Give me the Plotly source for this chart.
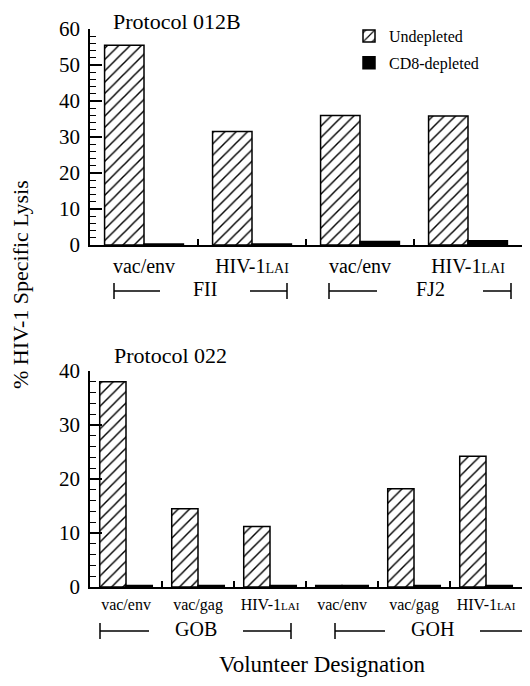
import plotly.graph_objects as go

# ---- data ----
top_categories = ["FII vac/env", "FII HIV-1LAI", "FJ2 vac/env", "FJ2 HIV-1LAI"]
top_ticklabels = ["vac/env", "HIV-1<span style='font-size:14px'>LAI</span>",
                  "vac/env", "HIV-1<span style='font-size:14px'>LAI</span>"]
top_undepleted = [55.5, 31.5, 36.0, 35.8]
top_depleted = [0.3, 0.3, 1.0, 1.2]

bot_categories = ["GOB vac/env", "GOB vac/gag", "GOB HIV-1LAI",
                  "GOH vac/env", "GOH vac/gag", "GOH HIV-1LAI"]
bot_ticklabels = ["vac/env", "vac/gag", "HIV-1<span style='font-size:11px'>LAI</span>",
                  "vac/env", "vac/gag", "HIV-1<span style='font-size:11px'>LAI</span>"]
bot_undepleted = [38.0, 14.5, 11.2, 0.3, 18.2, 24.2]
bot_depleted = [0.3, 0.3, 0.3, 0.3, 0.3, 0.3]

top_groups = ["FII", "FJ2"]
bot_groups = ["GOB", "GOH"]

FONT = "Liberation Serif"
OFF = 8                     # page body margin of the html page
W, H = 530 - OFF, 686 - OFF


def px(x):
    return (x - OFF) / W


def py(y):
    return 1 - (y - OFF) / H


hatch = dict(shape="/", fgcolor="black", bgcolor="white", size=8, solidity=0.18)
outline = dict(color="black", width=1.5)

fig = go.Figure()
fig.add_trace(go.Bar(x=top_categories, y=top_undepleted, name="Undepleted",
                     marker=dict(color="white", pattern=hatch, line=outline),
                     xaxis="x", yaxis="y", legendgroup="a"))
fig.add_trace(go.Bar(x=top_categories, y=top_depleted, name="CD8-depleted",
                     marker=dict(color="black", line=outline),
                     xaxis="x", yaxis="y", legendgroup="b"))
fig.add_trace(go.Bar(x=bot_categories, y=bot_undepleted, name="Undepleted",
                     marker=dict(color="white", pattern=hatch, line=outline),
                     xaxis="x2", yaxis="y2", showlegend=False))
fig.add_trace(go.Bar(x=bot_categories, y=bot_depleted, name="CD8-depleted",
                     marker=dict(color="black", line=outline),
                     xaxis="x2", yaxis="y2", showlegend=False))

xdom = [px(90), px(522)]
top_dom = [py(245), py(29)]
bot_dom = [py(587), py(371)]


def xaxis(anchor, cats, labels, size):
    return dict(domain=xdom, anchor=anchor, type="category",
                categoryorder="array", categoryarray=cats,
                tickvals=cats, ticktext=labels,
                range=[-0.5, len(cats) - 0.5], automargin=False,
                showline=True, linecolor="black", linewidth=1.5,
                ticks="inside", tickson="boundaries", ticklen=6,
                tickcolor="black", tickwidth=1.5,
                tickfont=dict(family=FONT, size=size, color="black"),
                showgrid=False, zeroline=False, ticklabelstandoff=2)


def yaxis(anchor, dom, top):
    return dict(domain=dom, anchor=anchor, range=[0, top], dtick=10,
                automargin=False,
                showline=True, linecolor="black", linewidth=1.5,
                ticks="inside", ticklen=12, tickcolor="black", tickwidth=1.5,
                minor=dict(dtick=2, ticks="inside", ticklen=6,
                           tickcolor="black", tickwidth=1.2),
                tickfont=dict(family=FONT, size=21, color="black"),
                ticklabelstandoff=4,
                showgrid=False, zeroline=False)


fig.update_layout(
    template="none",
    width=W, height=H, autosize=False,
    margin=dict(l=0, r=0, t=0, b=0, pad=0, autoexpand=False),
    paper_bgcolor="white", plot_bgcolor="white",
    barmode="group", bargap=0.27, bargroupgap=0,
    xaxis=xaxis("y", top_categories, top_ticklabels, 20),
    yaxis=yaxis("x", top_dom, 60),
    xaxis2=xaxis("y2", bot_categories, bot_ticklabels, 16),
    yaxis2=yaxis("x2", bot_dom, 40),
    legend=dict(x=px(349), y=py(19), xanchor="left", yanchor="top",
                font=dict(family=FONT, size=16, color="black"),
                bgcolor="rgba(0,0,0,0)", tracegroupgap=3,
                traceorder="grouped"),
    font=dict(family=FONT, color="black"),
)

ann = []
ann.append(dict(text="Protocol 012B", x=px(112), y=py(22), xref="paper", yref="paper",
                xanchor="left", yanchor="middle", showarrow=False, borderpad=0,
                font=dict(family=FONT, size=22, color="black")))
ann.append(dict(text="Protocol 022", x=px(112), y=py(355), xref="paper", yref="paper",
                xanchor="left", yanchor="middle", showarrow=False,
                font=dict(family=FONT, size=22, color="black")))
ann.append(dict(text="% HIV-1 Specific Lysis", x=px(21), y=py(285), xref="paper", yref="paper",
                xanchor="center", yanchor="middle", textangle=-90, showarrow=False,
                font=dict(family=FONT, size=22, color="black")))
ann.append(dict(text="Volunteer Designation", x=px(322), y=py(664), xref="paper", yref="paper",
                xanchor="center", yanchor="middle", showarrow=False,
                font=dict(family=FONT, size=23, color="black")))

shapes = []


def bracket(label, xl, xr, x1, x2, yc, size):
    half = 8 / H
    lw = 1.5
    yp = py(yc)
    for xx in (xl, xr):
        shapes.append(dict(type="line", xref="paper", yref="paper", x0=px(xx), x1=px(xx),
                           y0=yp - half, y1=yp + half, line=dict(color="black", width=lw)))
    shapes.append(dict(type="line", xref="paper", yref="paper", x0=px(xl), x1=px(x1),
                       y0=yp, y1=yp, line=dict(color="black", width=lw)))
    shapes.append(dict(type="line", xref="paper", yref="paper", x0=px(x2), x1=px(xr),
                       y0=yp, y1=yp, line=dict(color="black", width=lw)))
    ann.append(dict(text=label, x=px((x1 + x2) / 2), y=py(yc - 2), xref="paper", yref="paper",
                    xanchor="center", yanchor="middle", showarrow=False,
                    font=dict(family=FONT, size=size, color="black")))


bracket(top_groups[0], 114, 287, 160, 250, 291, 20)
bracket(top_groups[1], 329, 511, 377, 483, 291, 20)
bracket(bot_groups[0], 100, 291, 149, 243, 631, 20)
bracket(bot_groups[1], 335, 527, 385, 480, 631, 20)

fig.update_layout(annotations=ann, shapes=shapes)
fig.write_html("out.html")
